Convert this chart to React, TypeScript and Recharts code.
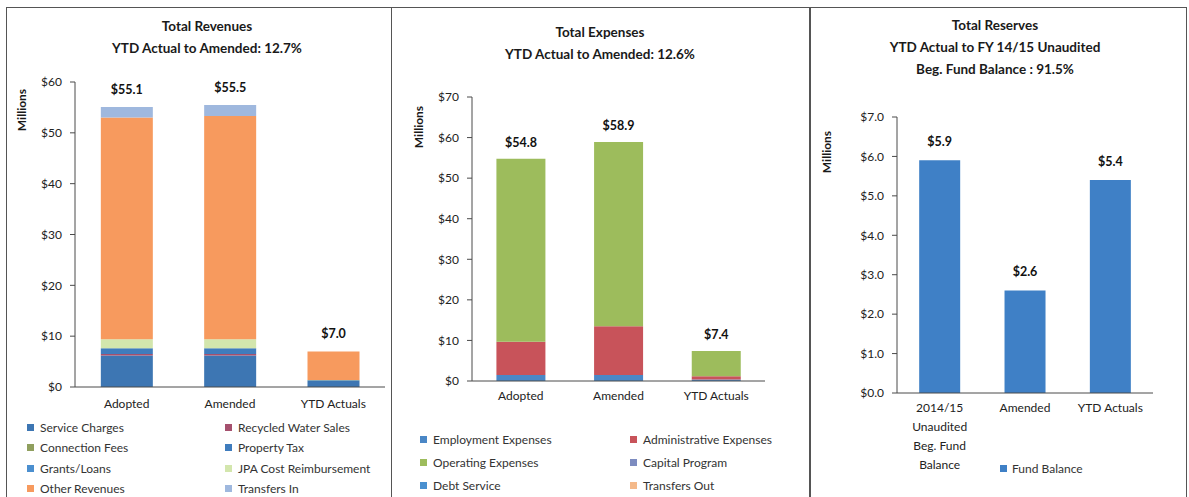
import React from 'react';
import { BarChart, Bar, XAxis, YAxis, LabelList } from 'recharts';

// ---- Total Revenues ($ millions) ----
const revenueCategories = ['Adopted', 'Amended', 'YTD Actuals'];
const serviceCharges = [6.2, 6.2, 1.2];
const recycledWaterSales = [0.3, 0.3, 0.0];
const connectionFees = [0.0, 0.0, 0.1];
const propertyTax = [1.1, 1.1, 0.1];
const grantsLoans = [0.0, 0.0, 0.0];
const jpaCostReimbursement = [1.8, 1.8, 0.0];
const otherRevenues = [43.6, 43.9, 5.6];
const transfersIn = [2.1, 2.2, 0.0];
const revenueTicks = [0, 10, 20, 30, 40, 50, 60];

// ---- Total Expenses ($ millions) ----
const expenseCategories = ['Adopted', 'Amended', 'YTD Actuals'];
const employmentExpenses = [1.5, 1.5, 0.4];
const administrativeExpenses = [8.2, 12.0, 0.8];
const operatingExpenses = [45.1, 45.4, 6.2];
const capitalProgram = [0.0, 0.0, 0.0];
const debtService = [0.0, 0.0, 0.0];
const transfersOut = [0.0, 0.0, 0.0];
const expenseTicks = [0, 10, 20, 30, 40, 50, 60, 70];

// ---- Total Reserves ($ millions) ----
const reserveCategories = ['2014/15\nUnaudited\nBeg. Fund\nBalance', 'Amended', 'YTD Actuals'];
const fundBalance = [5.9, 2.6, 5.4];
const reserveTicks = [0, 1, 2, 3, 4, 5, 6, 7];

const FONT = 'Lato, "Open Sans", sans-serif';
const AXIS = '#4a4a4a';

type Series = { key: string; name: string; color: string; values: number[] };

const revenueSeries: Series[] = [
  { key: 'service', name: 'Service Charges', color: '#3d76b3', values: serviceCharges },
  { key: 'recycled', name: 'Recycled Water Sales', color: '#a5506e', values: recycledWaterSales },
  { key: 'connection', name: 'Connection Fees', color: '#8f9f5e', values: connectionFees },
  { key: 'propTax', name: 'Property Tax', color: '#3f7cbd', values: propertyTax },
  { key: 'grants', name: 'Grants/Loans', color: '#4b8fcf', values: grantsLoans },
  { key: 'jpa', name: 'JPA Cost Reimbursement', color: '#d3e6ad', values: jpaCostReimbursement },
  { key: 'other', name: 'Other Revenues', color: '#f79a5e', values: otherRevenues },
  { key: 'transfersIn', name: 'Transfers In', color: '#9fb8de', values: transfersIn },
];

const expenseSeries: Series[] = [
  { key: 'employment', name: 'Employment Expenses', color: '#4a87c6', values: employmentExpenses },
  { key: 'admin', name: 'Administrative Expenses', color: '#c8535a', values: administrativeExpenses },
  { key: 'operating', name: 'Operating Expenses', color: '#9dbc5c', values: operatingExpenses },
  { key: 'capital', name: 'Capital Program', color: '#7d8cc0', values: capitalProgram },
  { key: 'debt', name: 'Debt Service', color: '#4a90d0', values: debtService },
  { key: 'transfersOut', name: 'Transfers Out', color: '#f4b98a', values: transfersOut },
];

const buildRows = (categories: string[], series: Series[]) =>
  categories.map((name, i) => {
    const row: Record<string, string | number> = { name };
    let total = 0;
    series.forEach((s) => {
      row[s.key] = s.values[i];
      total += s.values[i];
    });
    row.total = Math.round(total * 10) / 10;
    return row;
  });

const revenueRows = buildRows(revenueCategories, revenueSeries);
const expenseRows = buildRows(expenseCategories, expenseSeries);
const reserveRows = reserveCategories.map((name, i) => ({ name, fund: fundBalance[i] }));

const money1 = (v: any) => `$${Number(v).toFixed(1)}`;
const money0 = (v: any) => `$${v}`;

const tickStyle = { fontSize: 12, fill: '#222', fontFamily: FONT };
const labelStyle = { fontSize: 12.5, fill: '#111', fontFamily: FONT, fontWeight: 700 };

// index of the highest non-zero segment in each stacked column
const topSegment = (series: Series[], i: number) => {
  let top = 0;
  series.forEach((s, idx) => {
    if (s.values[i] > 0) top = idx;
  });
  return top;
};

// total label drawn above whichever segment ends the stack
const stackTotalLabel = (series: Series[], rows: Record<string, any>[], idx: number, offset: number) =>
  (props: any) => {
    const { x, y, width, index } = props;
    if (index == null || topSegment(series, index) !== idx) return null;
    return (
      <text
        x={Number(x) + Number(width) / 2}
        y={Number(y) - offset}
        textAnchor="middle"
        {...labelStyle}
      >
        {money1(rows[index].total)}
      </text>
    );
  };

const MultiLineTick = (props: any) => {
  const { x, y, payload } = props;
  const lines = String(payload.value).split('\n');
  return (
    <text x={x} y={y} textAnchor="middle" fontSize={12} fill="#222" fontFamily={FONT}>
      {lines.map((l, i) => (
        <tspan key={i} x={x} dy={i === 0 ? 11 : 19}>
          {l}
        </tspan>
      ))}
    </text>
  );
};

const Title = ({ lines, cx, top }: { lines: string[]; cx: number; top: number }) => (
  <div
    style={{
      position: 'absolute',
      left: cx - 160,
      top,
      width: 320,
      textAlign: 'center',
      fontFamily: FONT,
      fontWeight: 700,
      fontSize: 13.5,
      lineHeight: '22px',
      color: '#1a1a1a',
    }}
  >
    {lines.map((l) => (
      <div key={l}>{l}</div>
    ))}
  </div>
);

const Millions = ({ x, cy }: { x: number; cy: number }) => (
  <div
    style={{
      position: 'absolute',
      left: x - 30,
      top: cy - 8,
      width: 60,
      height: 16,
      textAlign: 'center',
      transform: 'rotate(-90deg)',
      fontFamily: FONT,
      fontWeight: 700,
      fontSize: 12,
      color: '#1a1a1a',
    }}
  >
    Millions
  </div>
);

const Legend2Col = ({
  series,
  left,
  top,
  colGap,
  rowGap,
}: {
  series: Series[];
  left: number;
  top: number;
  colGap: number;
  rowGap: number;
}) => (
  <div style={{ position: 'absolute', left, top, fontFamily: FONT, fontSize: 12, color: '#333' }}>
    {series.map((s, i) => (
      <div
        key={s.key}
        style={{
          position: 'absolute',
          left: (i % 2) * colGap,
          top: Math.floor(i / 2) * rowGap,
          whiteSpace: 'nowrap',
          display: 'flex',
          alignItems: 'center',
          height: 14,
        }}
      >
        <span style={{ display: 'inline-block', width: 7, height: 7, background: s.color, marginRight: 6 }} />
        {s.name}
      </div>
    ))}
  </div>
);

const panelBorder = (left: number, width: number) => (
  <div
    style={{
      position: 'absolute',
      left,
      top: 7,
      width,
      height: 500,
      border: '1px solid #555',
      boxSizing: 'border-box',
    }}
  />
);

export default function App() {
  return (
    <div
      style={{
        position: 'absolute',
        left: 0,
        top: 0,
        width: 1189,
        height: 497,
        overflow: 'hidden',
        background: '#fff',
      }}
    >
      {panelBorder(6, 386)}
      {panelBorder(391, 419)}
      {panelBorder(810, 377)}

      {/* Revenues */}
      <Title lines={['Total Revenues', 'YTD Actual to Amended: 12.7%']} cx={207} top={15} />
      <Millions x={22} cy={110} />
      <div style={{ position: 'absolute', left: 0, top: 0 }}>
        <BarChart
          width={392}
          height={420}
          data={revenueRows}
          margin={{ top: 82, right: 7, left: 0, bottom: 3 }}
          barCategoryGap="25%"
        >
          <XAxis
            dataKey="name"
            height={30}
            tickLine={false}
            stroke={AXIS}
            tick={tickStyle}
            tickMargin={6}
          />
          <YAxis
            width={75}
            domain={[0, 60]}
            ticks={revenueTicks}
            tickFormatter={money0}
            stroke={AXIS}
            tick={tickStyle}
            tickMargin={8}
            tickSize={5}
          />
          {revenueSeries.map((s, idx) => (
            <Bar key={s.key} dataKey={s.key} name={s.name} stackId="a" fill={s.color} isAnimationActive={false}>
              <LabelList dataKey={s.key} content={stackTotalLabel(revenueSeries, revenueRows, idx, 13)} />
            </Bar>
          ))}
        </BarChart>
      </div>
      <Legend2Col series={revenueSeries} left={27} top={420} colGap={198} rowGap={20.5} />

      {/* Expenses */}
      <Title lines={['Total Expenses', 'YTD Actual to Amended: 12.6%']} cx={600} top={21} />
      <Millions x={419} cy={127} />
      <div style={{ position: 'absolute', left: 392, top: 0 }}>
        <BarChart
          width={416}
          height={414}
          data={expenseRows}
          margin={{ top: 97, right: 43, left: 0, bottom: 3 }}
          barCategoryGap="25%"
        >
          <XAxis
            dataKey="name"
            height={30}
            tickLine={false}
            stroke={AXIS}
            tick={tickStyle}
            tickMargin={4}
          />
          <YAxis
            width={80}
            domain={[0, 70]}
            ticks={expenseTicks}
            tickFormatter={money0}
            stroke={AXIS}
            tick={tickStyle}
            tickMargin={8}
            tickSize={5}
          />
          {expenseSeries.map((s, idx) => (
            <Bar key={s.key} dataKey={s.key} name={s.name} stackId="a" fill={s.color} isAnimationActive={false}>
              <LabelList dataKey={s.key} content={stackTotalLabel(expenseSeries, expenseRows, idx, 12)} />
            </Bar>
          ))}
        </BarChart>
      </div>
      <Legend2Col series={expenseSeries} left={420} top={432} colGap={210} rowGap={23} />

      {/* Reserves */}
      <Title
        lines={['Total Reserves', 'YTD Actual to FY 14/15 Unaudited', 'Beg. Fund Balance :  91.5%']}
        cx={995}
        top={14}
      />
      <Millions x={827} cy={152} />
      <div style={{ position: 'absolute', left: 808, top: 0 }}>
        <BarChart
          width={378}
          height={490}
          data={reserveRows}
          margin={{ top: 117, right: 33, left: 0, bottom: 3 }}
          barCategoryGap="26%"
        >
          <XAxis
            dataKey="name"
            height={94}
            tickLine={false}
            stroke={AXIS}
            tick={<MultiLineTick />}
            interval={0}
          />
          <YAxis
            width={89}
            domain={[0, 7]}
            ticks={reserveTicks}
            tickFormatter={money1}
            stroke={AXIS}
            tick={tickStyle}
            tickMargin={8}
            tickSize={5}
          />
          <Bar dataKey="fund" name="Fund Balance" fill="#3f80c6" isAnimationActive={false}>
            <LabelList dataKey="fund" position="top" offset={14} formatter={money1} style={labelStyle} />
          </Bar>
        </BarChart>
      </div>
      <div
        style={{
          position: 'absolute',
          left: 1000,
          top: 461,
          display: 'flex',
          alignItems: 'center',
          fontFamily: FONT,
          fontSize: 12,
          color: '#333',
          whiteSpace: 'nowrap',
        }}
      >
        <span style={{ display: 'inline-block', width: 7, height: 7, background: '#3f80c6', marginRight: 5 }} />
        Fund Balance
      </div>
    </div>
  );
}
